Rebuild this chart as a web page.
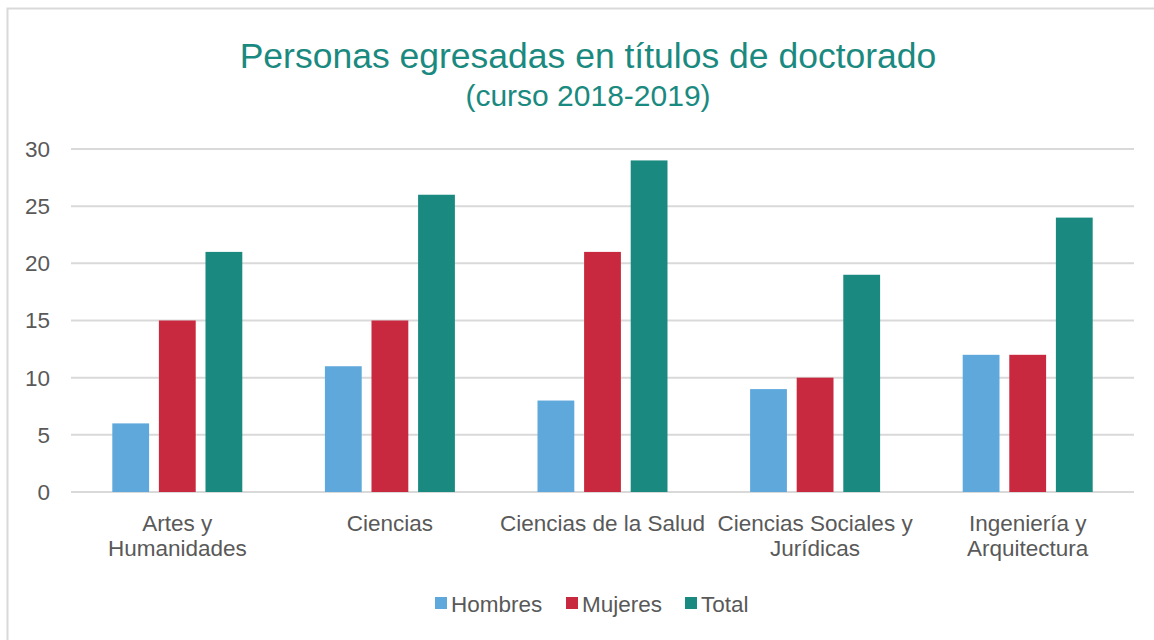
<!DOCTYPE html>
<html>
<head>
<meta charset="utf-8">
<script src="https://cdn.jsdelivr.net/npm/d3@7"></script>
<style>
  body { margin: 0; background: #fff; }
  text { font-family: 'Liberation Sans', Arial, sans-serif; }
</style>
</head>
<body>
<div id="chart"></div>
<script>
const categories = [
  ['Artes y', 'Humanidades'],
  ['Ciencias'],
  ['Ciencias de la Salud'],
  ['Ciencias Sociales y', 'Jurídicas'],
  ['Ingeniería y', 'Arquitectura']
]
const series = ['Hombres', 'Mujeres', 'Total']
const hombres = [6, 11, 8, 9, 12]
const mujeres = [15, 15, 21, 10, 12]
const total = [21, 26, 29, 19, 24]
const yTicks = [0, 5, 10, 15, 20, 25, 30]

const colors = { Hombres: '#5fa8dc', Mujeres: '#c8293e', Total: '#1a8a80' }

const W = 1154
const H = 640
const margin = { top: 149, left: 71, right: 20, bottom: 148 }
const width = 1134 - margin.left
const height = 492 - margin.top

const svg = d3
  .select('#chart')
  .append('svg')
  .attr('width', W)
  .attr('height', H)

// outer frame
svg
  .append('rect')
  .attr('x', 7.5)
  .attr('y', 8.5)
  .attr('width', W + 20)
  .attr('height', H + 20)
  .attr('fill', 'none')
  .attr('stroke', '#d9d9d9')
  .attr('stroke-width', 2)

svg
  .append('text')
  .text('Personas egresadas en títulos de doctorado')
  .attr('x', 588)
  .attr('y', 68)
  .attr('text-anchor', 'middle')
  .attr('font-size', 35.5)
  .attr('fill', '#1a8a80')

svg
  .append('text')
  .text('(curso 2018-2019)')
  .attr('x', 588)
  .attr('y', 106)
  .attr('text-anchor', 'middle')
  .attr('font-size', 30)
  .attr('fill', '#1a8a80')

const g = svg
  .append('g')
  .attr('transform', 'translate(' + margin.left + ',' + margin.top + ')')

const yScale = d3
  .scaleLinear()
  .domain([0, 30])
  .range([height, 0])

const x0 = d3
  .scaleBand()
  .domain(d3.range(categories.length))
  .range([0, width])

const groupWidth = 130
const x1 = d3
  .scaleBand()
  .domain(series)
  .range([(x0.bandwidth() - groupWidth) / 2, (x0.bandwidth() + groupWidth) / 2])
  .paddingInner(0.21)

// gridlines
g.selectAll('.grid')
  .data(yTicks)
  .enter()
  .append('line')
  .attr('x1', 0)
  .attr('x2', width)
  .attr('y1', d => yScale(d))
  .attr('y2', d => yScale(d))
  .attr('stroke', '#d9d9d9')
  .attr('stroke-width', 2)

g.selectAll('.ytick')
  .data(yTicks)
  .enter()
  .append('text')
  .text(d => d)
  .attr('x', -21)
  .attr('y', d => yScale(d))
  .attr('dy', '0.35em')
  .attr('text-anchor', 'end')
  .attr('font-size', 22.5)
  .attr('fill', '#595959')

const rows = categories.map((c, i) => ({
  i: i,
  values: [
    { key: 'Hombres', value: hombres[i] },
    { key: 'Mujeres', value: mujeres[i] },
    { key: 'Total', value: total[i] }
  ]
}))

const groups = g
  .selectAll('.cat')
  .data(rows)
  .enter()
  .append('g')
  .attr('transform', d => 'translate(' + x0(d.i) + ',0)')

groups
  .selectAll('rect')
  .data(d => d.values)
  .enter()
  .append('rect')
  .attr('x', d => x1(d.key))
  .attr('width', x1.bandwidth())
  .attr('y', d => yScale(d.value))
  .attr('height', d => yScale(0) - yScale(d.value))
  .attr('fill', d => colors[d.key])

// category labels
const labels = g
  .selectAll('.xlabel')
  .data(categories)
  .enter()
  .append('text')
  .attr('text-anchor', 'middle')
  .attr('font-size', 22.5)
  .attr('fill', '#595959')
  .attr('transform', (d, i) => 'translate(' + (x0(i) + x0.bandwidth() / 2) + ',' + (height + 39) + ')')

labels
  .selectAll('tspan')
  .data(d => d)
  .enter()
  .append('tspan')
  .attr('x', 0)
  .attr('dy', (d, i) => (i === 0 ? 0 : 25))
  .text(d => d)

// legend
const legendX = [435, 566, 685]
const legend = svg
  .selectAll('.legend')
  .data(series)
  .enter()
  .append('g')
  .attr('transform', (d, i) => 'translate(' + legendX[i] + ',597)')

legend
  .append('rect')
  .attr('width', 12)
  .attr('height', 12)
  .attr('fill', d => colors[d])

legend
  .append('text')
  .text(d => d)
  .attr('x', 16)
  .attr('y', 7)
  .attr('dy', '0.35em')
  .attr('font-size', 22.5)
  .attr('fill', '#595959')
</script>
</body>
</html>
